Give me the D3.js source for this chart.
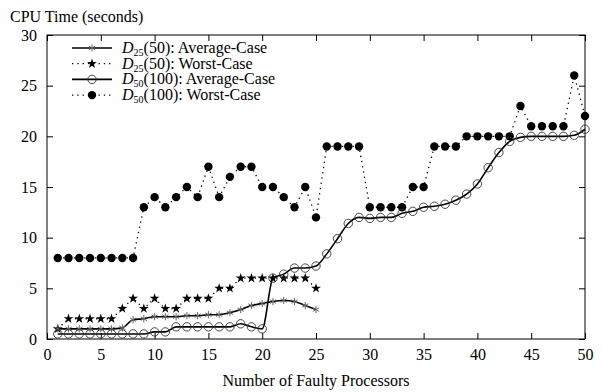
<!DOCTYPE html>
<html>
<head>
<meta charset="utf-8">
<script src="https://cdn.jsdelivr.net/npm/d3@7"></script>
<style>
  body { margin: 0; background: #fff; }
  text { font-family: "Liberation Serif", serif; fill: #000; }
</style>
</head>
<body>
<div id="chart"></div>
<script>
// data
var xs25 = d3.range(1, 26);
var xs50 = d3.range(1, 51);
var d25Avg = [1.0, 1.0, 1.0, 1.0, 1.0, 1.0, 1.1, 1.9, 2.0, 2.2, 2.2, 2.2, 2.3, 2.3, 2.4,
              2.4, 2.6, 2.9, 3.3, 3.5, 3.7, 3.8, 3.7, 3.3, 2.9];
var d25Worst = [1, 2, 2, 2, 2, 2, 3, 4, 3, 4, 3, 3, 4, 4, 4, 5, 5, 6, 6, 6, 6, 6, 6, 6, 5];
var d50Avg = [0.5, 0.5, 0.5, 0.5, 0.5, 0.5, 0.5, 0.5, 0.5, 0.7, 0.7, 1.2, 1.2, 1.2, 1.2,
              1.2, 1.2, 1.5, 1.2, 1.0, 6.0, 6.4, 7.0, 7.0, 7.2, 8.4, 9.9, 11.4, 12.0, 11.9,
              12.0, 12.0, 12.4, 12.6, 13.0, 13.1, 13.3, 13.7, 14.3, 15.3, 16.9, 18.4, 19.5, 19.9, 20.0,
              20.0, 20.0, 20.0, 20.1, 20.7];
var d50Worst = [8, 8, 8, 8, 8, 8, 8, 8, 13, 14, 13, 14, 15, 14, 17, 14, 16, 17, 17, 15,
                15, 14, 13, 15, 12, 19, 19, 19, 19, 13, 13, 13, 13, 15, 15, 19, 19, 19, 20, 20,
                20, 20, 20, 23, 21, 21, 21, 21, 26, 22];
var xTicks = [0, 5, 10, 15, 20, 25, 30, 35, 40, 45, 50];
var yTicks = [0, 5, 10, 15, 20, 25, 30];

var W = 602, H = 392;
var margin = {top: 35, right: 17, bottom: 53, left: 47},
    width = W - margin.left - margin.right,
    height = H - margin.top - margin.bottom;

var svg = d3.select("#chart")
  .append("svg")
    .attr("width", W)
    .attr("height", H);
var g = svg.append("g")
    .attr("transform", "translate(" + margin.left + "," + margin.top + ")");

var x = d3.scaleLinear().domain([0, 50]).range([0, width]);
var y = d3.scaleLinear().domain([0, 30]).range([height, 0]);

// frame
g.append("rect")
  .attr("width", width).attr("height", height)
  .attr("fill", "none").attr("stroke", "#000").attr("stroke-width", 1);

// ticks, inward and mirrored
function ticks(axis) {
  return function(sel) {
    sel.call(axis);
    sel.select(".domain").remove();
    sel.selectAll("text")
      .style("font-family", "Liberation Serif, serif")
      .style("font-size", "16px")
      .attr("fill", "#000");
  };
}
g.append("g")
  .attr("transform", "translate(0," + height + ")")
  .call(ticks(d3.axisBottom(x).tickValues(xTicks).tickSizeInner(-6).tickSizeOuter(0).tickPadding(10)));
g.append("g")
  .call(ticks(d3.axisTop(x).tickValues(xTicks).tickSizeInner(-6).tickSizeOuter(0).tickFormat("")));
g.append("g")
  .call(ticks(d3.axisLeft(y).tickValues(yTicks).tickSizeInner(-6).tickSizeOuter(0).tickPadding(10)));
g.append("g")
  .attr("transform", "translate(" + width + ",0)")
  .call(ticks(d3.axisRight(y).tickValues(yTicks).tickSizeInner(-6).tickSizeOuter(0).tickFormat("")));

// series
var series = [
  {name: "25", n: "(50)", kind: "Average-Case", xs: xs25, vals: d25Avg, dotted: false, mark: "ast"},
  {name: "25", n: "(50)", kind: "Worst-Case", xs: xs25, vals: d25Worst, dotted: true, mark: "star"},
  {name: "50", n: "(100)", kind: "Average-Case", xs: xs50, vals: d50Avg, dotted: false, mark: "open"},
  {name: "50", n: "(100)", kind: "Worst-Case", xs: xs50, vals: d50Worst, dotted: true, mark: "dot"}
];

function drawMark(sel, mark) {
  if (mark === "ast") {
    sel.append("path").attr("d", d3.symbol(d3.symbolAsterisk, 36)())
      .attr("fill", "none").attr("stroke", "#666").attr("stroke-width", 1);
  } else if (mark === "star") {
    sel.append("path").attr("d", d3.symbol(d3.symbolStar, 30)()).attr("fill", "#000");
  } else if (mark === "open") {
    sel.append("circle").attr("r", 4.2).attr("fill", "none").attr("stroke", "#333").attr("stroke-width", 0.9);
  } else {
    sel.append("circle").attr("r", 4.2).attr("fill", "#000");
  }
}

var smooth = d3.line().curve(d3.curveMonotoneX)
  .x(function(d) { return x(d[0]); }).y(function(d) { return y(d[1]); });
var straight = d3.line()
  .x(function(d) { return x(d[0]); }).y(function(d) { return y(d[1]); });

[1, 3, 0, 2].forEach(function(i) {
  var s = series[i];
  var pts = s.xs.map(function(v, j) { return [v, s.vals[j]]; });
  g.append("path")
    .datum(pts)
    .attr("d", s.dotted ? straight : smooth)
    .attr("fill", "none")
    .attr("stroke", "#000")
    .attr("stroke-width", s.dotted ? 1.3 : 1.6)
    .attr("stroke-dasharray", s.dotted ? "1.3,4" : null);
  g.selectAll(null)
    .data(pts)
    .enter()
    .append("g")
      .attr("transform", function(d) { return "translate(" + x(d[0]) + "," + y(d[1]) + ")"; })
      .each(function() { drawMark(d3.select(this), s.mark); });
});

// legend
var leg = g.append("g").attr("transform", "translate(25,13)");
series.forEach(function(s, i) {
  var row = leg.append("g").attr("transform", "translate(0," + (i * 15.7) + ")");
  row.append("line")
    .attr("x1", 0).attr("x2", 40)
    .attr("stroke", "#000")
    .attr("stroke-width", s.dotted ? 1.3 : 1.6)
    .attr("stroke-dasharray", s.dotted ? "1.3,4" : null);
  drawMark(row.append("g").attr("transform", "translate(20,0)"), s.mark);
  var t = row.append("text")
    .attr("x", 50).attr("y", 5)
    .style("font-size", "16px");
  t.append("tspan").style("font-style", "italic").text("D");
  t.append("tspan").attr("dy", 3).style("font-size", "10px").text(s.name);
  t.append("tspan").attr("dy", -3).text(s.n + ": " + s.kind);
});

// axis titles
svg.append("text")
  .attr("x", 10).attr("y", 22)
  .style("font-size", "16px")
  .text("CPU Time (seconds)");
svg.append("text")
  .attr("x", margin.left + width / 2).attr("y", 386)
  .attr("text-anchor", "middle")
  .style("font-size", "16px")
  .text("Number of Faulty Processors");
</script>
</body>
</html>
